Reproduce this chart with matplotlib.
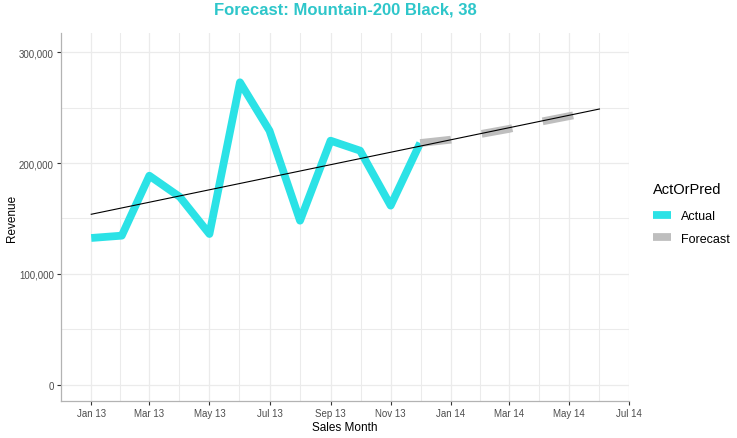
import matplotlib
matplotlib.use("Agg")
import matplotlib.pyplot as plt
import matplotlib.dates as mdates
from matplotlib.lines import Line2D
from matplotlib.ticker import FuncFormatter
import pandas as pd

plt.rcParams['font.family'] = ['Liberation Sans', 'DejaVu Sans']

# ---- data ----
actual_months = ["2013-01-01", "2013-02-01", "2013-03-01", "2013-04-01", "2013-05-01", "2013-06-01",
                 "2013-07-01", "2013-08-01", "2013-09-01", "2013-10-01", "2013-11-01", "2013-12-01"]
actual_values = [132400, 134500, 188600, 169400, 136000, 272900,
                 229200, 148000, 220200, 211200, 161600, 218100]

forecast_months = ["2013-12-01", "2014-01-01", "2014-02-01", "2014-03-01", "2014-04-01", "2014-05-01", "2014-06-01"]
forecast_values = [218100, 221100, 226300, 230800, 237100, 242300, 247500]

trend_months = ["2013-01-01", "2014-06-01"]
trend_values = [153800, 248800]

x_ticks = ["2013-01-01", "2013-03-01", "2013-05-01", "2013-07-01", "2013-09-01", "2013-11-01",
           "2014-01-01", "2014-03-01", "2014-05-01", "2014-07-01"]
x_tick_labels = ["Jan 13", "Mar 13", "May 13", "Jul 13", "Sep 13", "Nov 13",
                 "Jan 14", "Mar 14", "May 14", "Jul 14"]
y_ticks = [0, 100000, 200000, 300000]

title = "Forecast: Mountain-200 Black, 38"
legend_title = "ActOrPred"
series_names = ["Actual", "Forecast"]

# ---- style ----
c_actual = "#2BE2E6"
c_fore = "#BEBEBE"
c_title = "#2EC6CA"
grid_c = "#EBEBEB"

fig = plt.figure(figsize=(7.37, 4.39), dpi=100)
ax = fig.add_axes([60.7/737, 1-402.3/439, (629-60.7)/737, (402.3-34)/439])

ad = pd.to_datetime(actual_months)
fd = pd.to_datetime(forecast_months)
td = pd.to_datetime(trend_months)
xt = pd.to_datetime(x_ticks)

lw = 5.6
ax.plot(ad, actual_values, color=c_actual, lw=lw, solid_capstyle='butt', solid_joinstyle='round', zorder=3)
ax.plot(fd, forecast_values, color=c_fore, lw=lw, dashes=(4, 4), dash_capstyle='butt', zorder=3)
ax.plot(td, trend_values, color="black", lw=0.8, zorder=4)

ax.set_xlim(pd.Timestamp("2012-12-01"), pd.Timestamp("2014-07-01"))
ax.set_ylim(-15000, 317400)

ax.set_xticks(xt)
ax.set_xticklabels(x_tick_labels)
xnum = mdates.date2num(xt)
minor_x = list((xnum[:-1] + xnum[1:]) / 2)
ax.set_xticks(minor_x, minor=True)
ax.set_yticks(y_ticks)
ax.set_yticks([50000, 150000, 250000], minor=True)
ax.yaxis.set_major_formatter(FuncFormatter(lambda v, p: f"{int(v):,}"))

ax.grid(True, which='major', color=grid_c, lw=0.9, zorder=0)
ax.grid(True, which='minor', color=grid_c, lw=0.75, zorder=0)
ax.set_axisbelow(True)

for s in ['top', 'right']:
    ax.spines[s].set_visible(False)
for s in ['left', 'bottom']:
    ax.spines[s].set_color("#B3B3B3")
    ax.spines[s].set_linewidth(0.9)

ax.tick_params(which='major', length=3, width=0.8, color="#333333", labelsize=7, labelcolor="#4D4D4D", pad=2)
ax.tick_params(which='minor', length=0)

ax.set_xlabel("Sales Month", fontsize=8.5)
ax.xaxis.set_label_coords(345/737, 1-428/439, transform=fig.transFigure)
ax.set_ylabel("Revenue", fontsize=8.5)
ax.yaxis.set_label_coords(12/737, 1-218/439, transform=fig.transFigure)
ax.xaxis.label.set_va('center')
ax.yaxis.label.set_va('center')

fig.text(345/737, 1-10/439, title, color=c_title, fontsize=12, fontweight='bold', ha='center', va='center')

handles = [Line2D([0], [0], color=c_actual, lw=lw, solid_capstyle='butt'),
           Line2D([0], [0], color=c_fore, lw=lw, solid_capstyle='butt')]
leg = fig.legend(handles, series_names, title=legend_title, loc='upper left',
                 bbox_to_anchor=(642/737, 1-172/439), frameon=False, fontsize=9,
                 title_fontsize=10.5, handlelength=1.45, handletextpad=0.8, labelspacing=0.85,
                 alignment='left')
leg._legend_box.sep = 10

fig.savefig("out.png", dpi=100)
